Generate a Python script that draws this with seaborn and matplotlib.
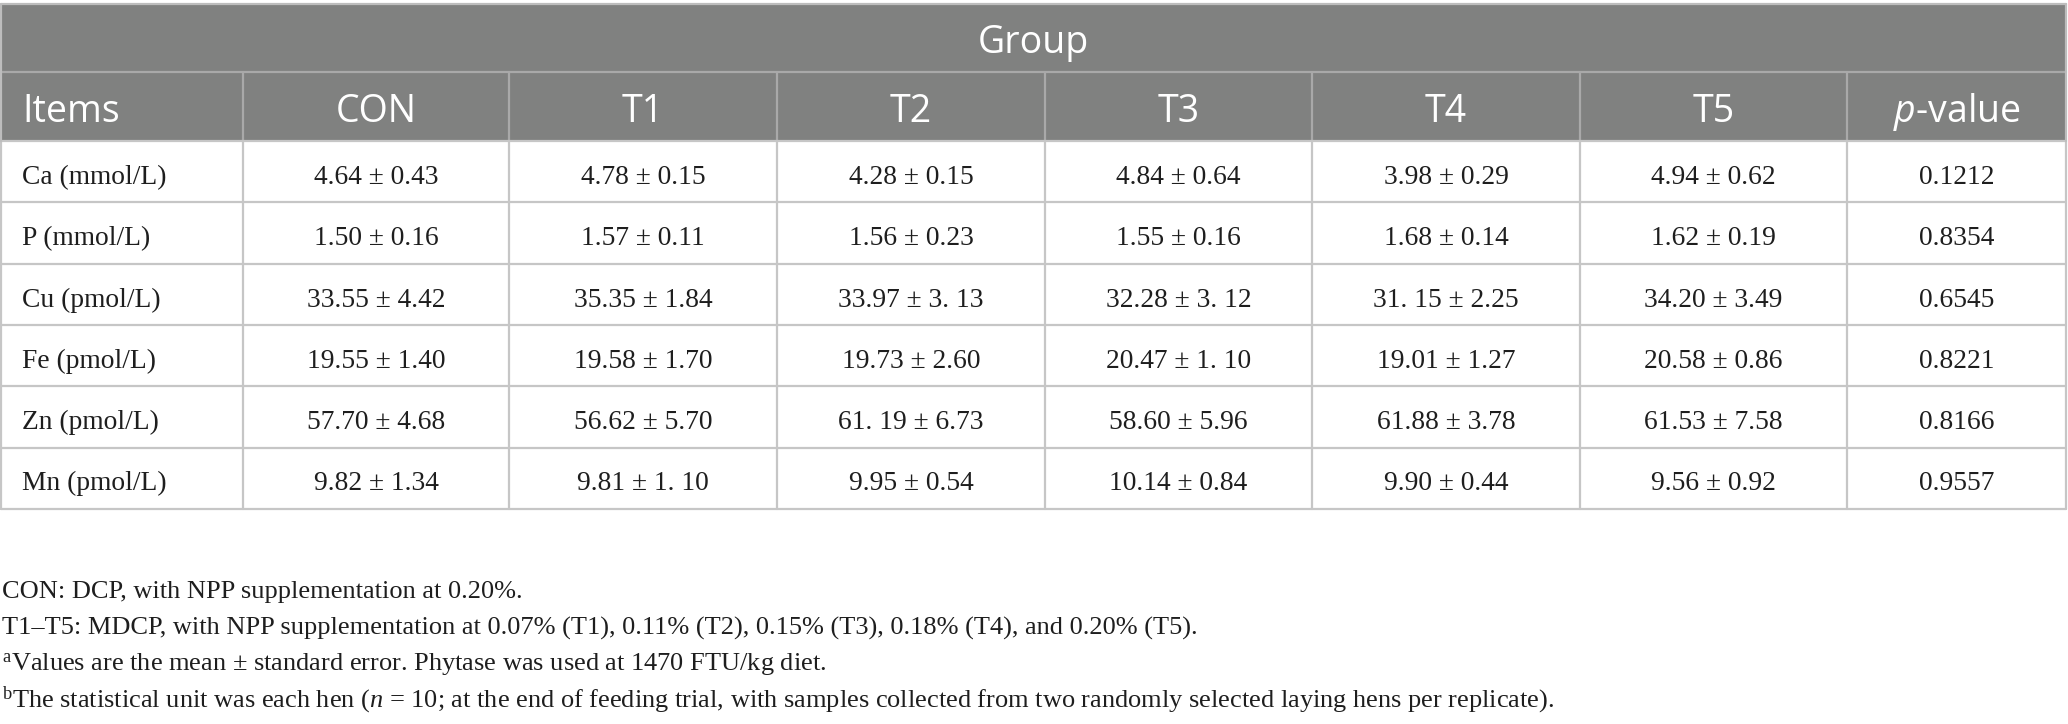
import matplotlib
matplotlib.use("Agg")
import matplotlib.pyplot as plt
import seaborn as sns

# ---------------- data ----------------
group_title = "Group"
col_headers = ["Items", "CON", "T1", "T2", "T3", "T4", "T5", r"$\mathbf{p}$-value"]
items = ["Ca (mmol/L)", "P (mmol/L)", "Cu (pmol/L)", "Fe (pmol/L)", "Zn (pmol/L)", "Mn (pmol/L)"]
con = ["4.64 ± 0.43", "1.50 ± 0.16", "33.55 ± 4.42", "19.55 ± 1.40", "57.70 ± 4.68", "9.82 ± 1.34"]
t1 = ["4.78 ± 0.15", "1.57 ± 0.11", "35.35 ± 1.84", "19.58 ± 1.70", "56.62 ± 5.70", "9.81 ± 1. 10"]
t2 = ["4.28 ± 0.15", "1.56 ± 0.23", "33.97 ± 3. 13", "19.73 ± 2.60", "61. 19 ± 6.73", "9.95 ± 0.54"]
t3 = ["4.84 ± 0.64", "1.55 ± 0.16", "32.28 ± 3. 12", "20.47 ± 1. 10", "58.60 ± 5.96", "10.14 ± 0.84"]
t4 = ["3.98 ± 0.29", "1.68 ± 0.14", "31. 15 ± 2.25", "19.01 ± 1.27", "61.88 ± 3.78", "9.90 ± 0.44"]
t5 = ["4.94 ± 0.62", "1.62 ± 0.19", "34.20 ± 3.49", "20.58 ± 0.86", "61.53 ± 7.58", "9.56 ± 0.92"]
p_values = ["0.1212", "0.8354", "0.6545", "0.8221", "0.8166", "0.9557"]
footnotes = [
    "CON: DCP, with NPP supplementation at 0.20%.",
    "T1–T5: MDCP, with NPP supplementation at 0.07% (T1), 0.11% (T2), 0.15% (T3), 0.18% (T4), and 0.20% (T5).",
    r"$^{\mathrm{a}}$Values are the mean ± standard error. Phytase was used at 1470 FTU/kg diet.",
    r"$^{\mathrm{b}}$The statistical unit was each hen ($\mathit{n}$ = 10; at the end of feeding trial, with samples collected from two randomly selected laying hens per replicate).",
]

# ---------------- style ----------------
sns.set_theme(style="white")
plt.rcParams["mathtext.fontset"] = "custom"
plt.rcParams["mathtext.rm"] = "Liberation Serif"
plt.rcParams["mathtext.it"] = "Liberation Serif:italic"
plt.rcParams["mathtext.bf"] = "Open Sans:italic"

W, H = 2068, 724
fig = plt.figure(figsize=(W / 100, H / 100), dpi=100)
ax = fig.add_axes([0, 0, 1, 1])
ax.set_xlim(0, W)
ax.set_ylim(H, 0)
ax.axis("off")

header_bg = "#808180"
grid_c = "#c6c6c6"
hdr_line = "#a9a9a9"
txt_c = "#1e1e1e"

col_x = [1, 243, 509, 777, 1045, 1312, 1580, 1847, 2066]
top = 4
group_bot = 72
head_bot = 141
row_h = 61.3
n_rows = len(items)
body_bot = head_bot + row_h * n_rows

# header background
ax.add_patch(plt.Rectangle((col_x[0], top), col_x[-1] - col_x[0], head_bot - top,
                           facecolor=header_bg, edgecolor="none", zorder=1))
ax.plot([col_x[0], col_x[-1]], [group_bot, group_bot], color=hdr_line, lw=1.6, zorder=2)
for x in col_x[1:-1]:
    ax.plot([x, x], [group_bot, head_bot], color=hdr_line, lw=1.6, zorder=2)
ax.plot([col_x[0], col_x[-1]], [top, top], color="#bdbdbd", lw=1.6, zorder=2)

hfont = dict(family="Open Sans", color="white", fontsize=27)
ax.text((col_x[0] + col_x[-1]) / 2, top + 49, group_title,
        ha="center", va="baseline", **hfont)
for i, h in enumerate(col_headers):
    yb = group_bot + 50
    if i == 0:
        ax.text(col_x[0] + 21, yb, h, ha="left", va="baseline", **hfont)
    else:
        ax.text((col_x[i] + col_x[i + 1]) / 2, yb, h, ha="center", va="baseline", **hfont)

# body grid
for r in range(n_rows + 1):
    y = head_bot + r * row_h
    ax.plot([col_x[0], col_x[-1]], [y, y], color=grid_c, lw=1.6, zorder=2)
for x in col_x:
    ax.plot([x, x], [head_bot, body_bot], color=grid_c, lw=1.6, zorder=2)
ax.plot([col_x[0], col_x[0]], [top, head_bot], color="#bdbdbd", lw=1.6, zorder=2)
ax.plot([col_x[-1], col_x[-1]], [top, head_bot], color="#bdbdbd", lw=1.6, zorder=2)

bfont = dict(family="Liberation Serif", color=txt_c, fontsize=19.8)
columns = [items, con, t1, t2, t3, t4, t5, p_values]
for c, col in enumerate(columns):
    for r, val in enumerate(col):
        yb = head_bot + r * row_h + 43
        if c == 0:
            ax.text(col_x[0] + 21, yb, val, ha="left", va="baseline", **bfont)
        else:
            ax.text((col_x[c] + col_x[c + 1]) / 2, yb, val, ha="center", va="baseline", **bfont)

# footnotes
foot_y = [598, 635, 671, 707]
for y, t in zip(foot_y, footnotes):
    ax.text(2, y, t, ha="left", va="baseline", family="Liberation Serif", color=txt_c, fontsize=19)

fig.savefig("out.png", dpi=100, facecolor="white")
